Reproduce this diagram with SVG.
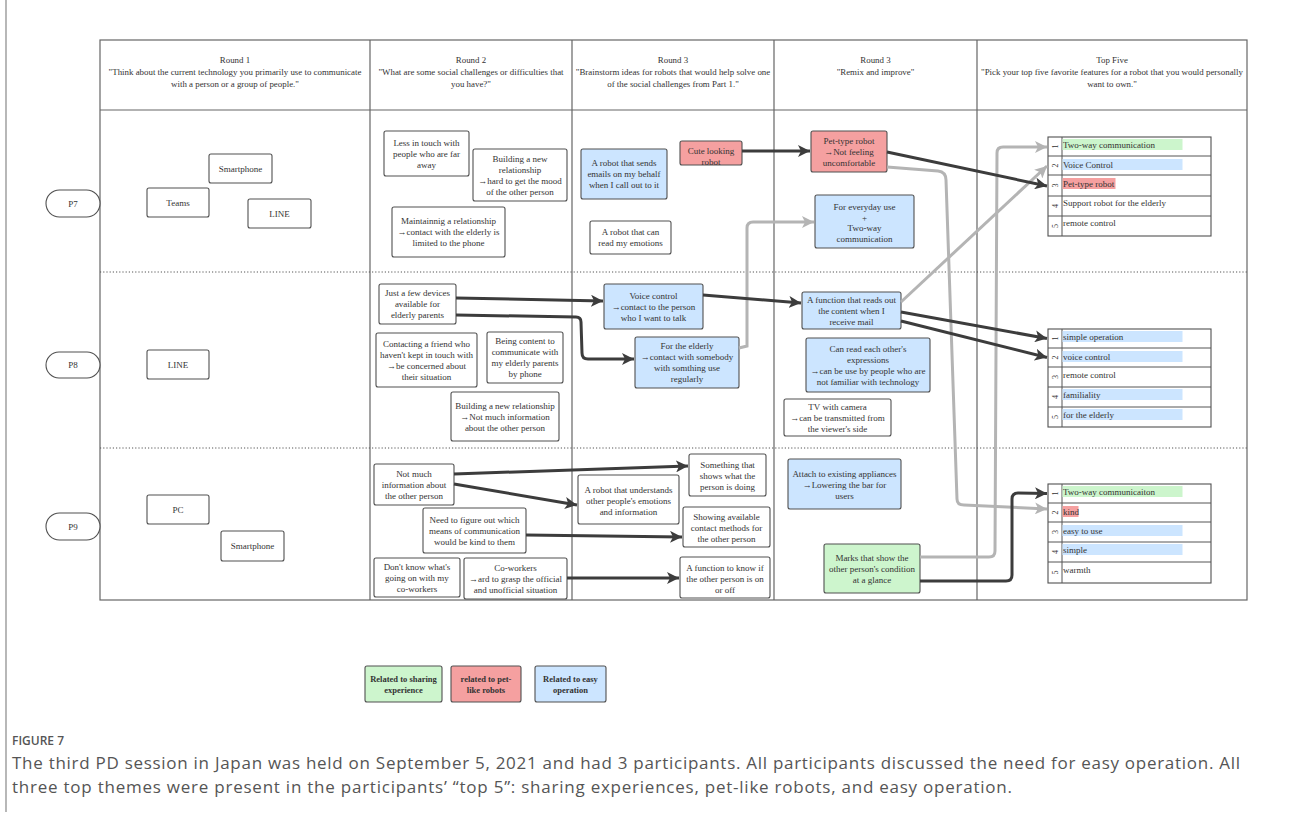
<svg xmlns="http://www.w3.org/2000/svg" width="1289" height="821" viewBox="0 0 1289 821">
  <style>
    .grid { fill: none; stroke: #666; stroke-width: 1.2; }
    .dots { fill: none; stroke: #555; stroke-width: 1; stroke-dasharray: 1.2 2; }
    .box { fill: #fff; stroke: #505050; stroke-width: 1.1; }
    .blue { fill: #cce5ff; }
    .red { fill: #f5a0a0; }
    .green { fill: #cdf5cd; }
    .t { font-family: "Liberation Serif", "Times New Roman", serif; font-size: 9px; fill: #333; text-anchor: middle; }
    .h { font-family: "Liberation Serif", "Times New Roman", serif; font-size: 8.9px; fill: #333; text-anchor: middle; }
    .r { font-family: "Liberation Serif", "Times New Roman", serif; font-size: 9px; fill: #333; }
    .num { font-family: "Liberation Serif", "Times New Roman", serif; font-size: 8px; fill: #333; text-anchor: middle; }
    .lg { font-family: "Liberation Serif", "Times New Roman", serif; font-size: 8.5px; font-weight: bold; fill: #333; text-anchor: middle; }
    .dark { fill: none; stroke: #3c3c3c; stroke-width: 3; marker-end: url(#ad); }
    .gray { fill: none; stroke: #b4b4b4; stroke-width: 3; marker-end: url(#ag); }
    .cap { font-family: "Open Sans", "Noto Sans", sans-serif; fill: #555; }
  </style>
  <defs>
    <marker id="ad" markerUnits="userSpaceOnUse" markerWidth="14" markerHeight="12" refX="12" refY="6" orient="auto">
      <path d="M0,0 L12,6 L0,12 L3,6 Z" fill="#3c3c3c"/>
    </marker>
    <marker id="ag" markerUnits="userSpaceOnUse" markerWidth="14" markerHeight="12" refX="12" refY="6" orient="auto">
      <path d="M0,0 L12,6 L0,12 L3,6 Z" fill="#b4b4b4"/>
    </marker>
  </defs>

  <rect width="1289" height="821" fill="#fff"/>
  <!-- figure frame -->
  <path d="M6 0 V812" stroke="#888" stroke-width="1.2" fill="none"/>

  <!-- table grid -->
  <g id="table">
    <rect class="grid" x="100" y="40" width="1147" height="560"/>
    <path class="grid" d="M100 110 H1247 M370 40 V600 M572 40 V600 M774 40 V600 M977 40 V600"/>
    <path class="dots" d="M100 272 H1247 M100 448 H1247"/>
  </g>

  <!-- column headers -->
  <g id="headers">
    <text class="h" x="235" y="63"><tspan x="235">Round 1</tspan><tspan x="235" dy="12">"Think about the current technology you primarily use to communicate</tspan><tspan x="235" dy="12">with a person or a group of people."</tspan></text>
    <text class="h" x="471" y="63"><tspan x="471">Round 2</tspan><tspan x="471" dy="12">"What are some social challenges or difficulties that</tspan><tspan x="471" dy="12">you have?"</tspan></text>
    <text class="h" x="673" y="63"><tspan x="673">Round 3</tspan><tspan x="673" dy="12">"Brainstorm ideas for robots that would help solve one</tspan><tspan x="673" dy="12">of the social challenges from Part 1."</tspan></text>
    <text class="h" x="875.5" y="63"><tspan x="875.5">Round 3</tspan><tspan x="875.5" dy="12">"Remix and improve"</tspan></text>
    <text class="h" x="1112" y="63"><tspan x="1112">Top Five</tspan><tspan x="1112" dy="12">"Pick your top five favorite features for a robot that you would personally</tspan><tspan x="1112" dy="12">want to own."</tspan></text>
  </g>

  <!-- participants -->
  <g id="p7"><rect class="box" x="46" y="190" width="54" height="27" rx="13.5"/><text class="t" x="73" y="206.5">P7</text></g>
  <g id="p8"><rect class="box" x="46" y="352" width="54" height="26" rx="13"/><text class="t" x="73" y="368">P8</text></g>
  <g id="p9"><rect class="box" x="46" y="513" width="54" height="27" rx="13.5"/><text class="t" x="73" y="529.5">P9</text></g>

  <!-- round 1 -->
  <g id="r1-smartphone-p7"><rect class="box" x="209" y="154" width="63" height="29" rx="2"/><text class="t" x="240.5" y="171.7">Smartphone</text></g>
  <g id="r1-teams"><rect class="box" x="147" y="188" width="62" height="29" rx="2"/><text class="t" x="178" y="205.7">Teams</text></g>
  <g id="r1-line-p7"><rect class="box" x="248" y="199" width="63" height="29" rx="2"/><text class="t" x="279.5" y="216.7">LINE</text></g>
  <g id="r1-line-p8"><rect class="box" x="147" y="350" width="62" height="29" rx="2"/><text class="t" x="178" y="367.7">LINE</text></g>
  <g id="r1-pc"><rect class="box" x="147" y="495" width="62" height="29" rx="2"/><text class="t" x="178" y="512.7">PC</text></g>
  <g id="r1-smartphone-p9"><rect class="box" x="221" y="531" width="63" height="30" rx="2"/><text class="t" x="252.5" y="549.2">Smartphone</text></g>

  <!-- round 2 -->
  <g id="r2-less-in-touch"><rect class="box" x="384" y="131" width="85" height="45" rx="2"/>
    <text class="t" x="426.5" y="145.7"><tspan x="426.5">Less in touch with</tspan><tspan x="426.5" dy="11">people who are far</tspan><tspan x="426.5" dy="11">away</tspan></text></g>
  <g id="r2-new-relationship-p7"><rect class="box" x="473" y="149" width="94" height="52" rx="2"/>
    <text class="t" x="520" y="161.7"><tspan x="520">Building a new</tspan><tspan x="520" dy="11">relationship</tspan><tspan x="520" dy="11">→hard to get the mood</tspan><tspan x="520" dy="11">of the other person</tspan></text></g>
  <g id="r2-maintaining"><rect class="box" x="392" y="207" width="113" height="50" rx="2"/>
    <text class="t" x="448.5" y="224.2"><tspan x="448.5">Maintainnig a relationship</tspan><tspan x="448.5" dy="11">→contact with the elderly is</tspan><tspan x="448.5" dy="11">limited to the phone</tspan></text></g>
  <g id="r2-few-devices"><rect class="box" x="379" y="284" width="77" height="40" rx="2"/>
    <text class="t" x="417.5" y="296.2"><tspan x="417.5">Just a few devices</tspan><tspan x="417.5" dy="11">available for</tspan><tspan x="417.5" dy="11">elderly parents</tspan></text></g>
  <g id="r2-contacting-friend"><rect class="box" x="376" y="333" width="101" height="54" rx="2"/>
    <text class="t" x="426.5" y="346.7"><tspan x="426.5">Contacting a friend who</tspan><tspan x="426.5" dy="11">haven't kept in touch with</tspan><tspan x="426.5" dy="11">→be concerned about</tspan><tspan x="426.5" dy="11">their situation</tspan></text></g>
  <g id="r2-content-phone"><rect class="box" x="487" y="332" width="76" height="51" rx="2"/>
    <text class="t" x="525" y="344.2"><tspan x="525">Being content to</tspan><tspan x="525" dy="11">communicate with</tspan><tspan x="525" dy="11">my elderly parents</tspan><tspan x="525" dy="11">by phone</tspan></text></g>
  <g id="r2-new-relationship-p8"><rect class="box" x="451" y="392" width="108" height="49" rx="2"/>
    <text class="t" x="505" y="408.7"><tspan x="505">Building a new relationship</tspan><tspan x="505" dy="11">→Not much information</tspan><tspan x="505" dy="11">about the other person</tspan></text></g>
  <g id="r2-not-much-info"><rect class="box" x="374" y="464" width="80" height="41" rx="2"/>
    <text class="t" x="414" y="476.7"><tspan x="414">Not much</tspan><tspan x="414" dy="11">information about</tspan><tspan x="414" dy="11">the other person</tspan></text></g>
  <g id="r2-figure-out"><rect class="box" x="423" y="508" width="103" height="45" rx="2"/>
    <text class="t" x="474.5" y="522.7"><tspan x="474.5">Need to figure out which</tspan><tspan x="474.5" dy="11">means of communication</tspan><tspan x="474.5" dy="11">would be kind to them</tspan></text></g>
  <g id="r2-dont-know"><rect class="box" x="374" y="558" width="86" height="39" rx="2"/>
    <text class="t" x="417" y="569.7"><tspan x="417">Don't know what's</tspan><tspan x="417" dy="11">going on with my</tspan><tspan x="417" dy="11">co-workers</tspan></text></g>
  <g id="r2-co-workers"><rect class="box" x="464" y="558" width="103" height="41" rx="2"/>
    <text class="t" x="515.5" y="570.7"><tspan x="515.5">Co-workers</tspan><tspan x="515.5" dy="11">→ard to grasp the official</tspan><tspan x="515.5" dy="11">and unofficial situation</tspan></text></g>

  <!-- round 3: brainstorm -->
  <g id="r3-sends-emails"><rect class="box blue" x="581" y="149" width="86" height="50" rx="2"/>
    <text class="t" x="624" y="166.2"><tspan x="624">A robot that sends</tspan><tspan x="624" dy="11">emails on my behalf</tspan><tspan x="624" dy="11">when I call out to it</tspan></text></g>
  <g id="r3-cute-robot"><rect class="box red" x="680" y="141" width="62" height="24" rx="2"/>
    <text class="t" x="711" y="154.2"><tspan x="711">Cute looking</tspan><tspan x="711" dy="11">robot</tspan></text></g>
  <g id="r3-read-emotions"><rect class="box" x="590" y="221" width="81" height="33" rx="2"/>
    <text class="t" x="630.5" y="235.2"><tspan x="630.5">A robot that can</tspan><tspan x="630.5" dy="11">read my emotions</tspan></text></g>
  <g id="r3-voice-control"><rect class="box blue" x="604" y="284" width="99" height="45" rx="2"/>
    <text class="t" x="653.5" y="298.7"><tspan x="653.5">Voice control</tspan><tspan x="653.5" dy="11">→contact to the person</tspan><tspan x="653.5" dy="11">who I want to talk</tspan></text></g>
  <g id="r3-for-elderly"><rect class="box blue" x="635" y="337" width="104" height="51" rx="2"/>
    <text class="t" x="687" y="349.2"><tspan x="687">For the elderly</tspan><tspan x="687" dy="11">→contact with somebody</tspan><tspan x="687" dy="11">with somthing use</tspan><tspan x="687" dy="11">regularly</tspan></text></g>
  <g id="r3-understands"><rect class="box" x="578" y="475" width="101" height="49" rx="2"/>
    <text class="t" x="628.5" y="492.5"><tspan x="628.5">A robot that understands</tspan><tspan x="628.5" dy="11">other people's emotions</tspan><tspan x="628.5" dy="11">and information</tspan></text></g>
  <g id="r3-shows-doing"><rect class="box" x="689" y="454" width="77" height="42" rx="2"/>
    <text class="t" x="727.5" y="468"><tspan x="727.5">Something that</tspan><tspan x="727.5" dy="11">shows what the</tspan><tspan x="727.5" dy="11">person is doing</tspan></text></g>
  <g id="r3-contact-methods"><rect class="box" x="683" y="507" width="87" height="40" rx="2"/>
    <text class="t" x="726.5" y="520"><tspan x="726.5">Showing available</tspan><tspan x="726.5" dy="11">contact methods for</tspan><tspan x="726.5" dy="11">the other person</tspan></text></g>
  <g id="r3-on-off"><rect class="box" x="680" y="557" width="90" height="41" rx="2"/>
    <text class="t" x="725" y="571"><tspan x="725">A function to know if</tspan><tspan x="725" dy="11">the other person is on</tspan><tspan x="725" dy="11">or off</tspan></text></g>

  <!-- round 3: remix -->
  <g id="r4-pet-type"><rect class="box red" x="811" y="131" width="76" height="41" rx="2"/>
    <text class="t" x="849" y="143.7"><tspan x="849">Pet-type robot</tspan><tspan x="849" dy="11">→Not feeling</tspan><tspan x="849" dy="11">uncomfortable</tspan></text></g>
  <g id="r4-everyday"><rect class="box blue" x="815" y="195" width="99" height="53" rx="2"/>
    <text class="t" x="864.5" y="210"><tspan x="864.5">For everyday use</tspan><tspan x="864.5" dy="10.5">+</tspan><tspan x="864.5" dy="10.5">Two-way</tspan><tspan x="864.5" dy="10.5">communication</tspan></text></g>
  <g id="r4-reads-mail"><rect class="box blue" x="802" y="292" width="99" height="37" rx="2"/>
    <text class="t" x="851.5" y="302.7"><tspan x="851.5">A function that reads out</tspan><tspan x="851.5" dy="11">the content when I</tspan><tspan x="851.5" dy="11">receive mail</tspan></text></g>
  <g id="r4-expressions"><rect class="box blue" x="806" y="338" width="124" height="54" rx="2"/>
    <text class="t" x="868" y="351.7"><tspan x="868">Can read each other's</tspan><tspan x="868" dy="11">expressions</tspan><tspan x="868" dy="11">→can be use by people who are</tspan><tspan x="868" dy="11">not familiar with technology</tspan></text></g>
  <g id="r4-tv-camera"><rect class="box" x="784" y="399" width="107" height="37" rx="2"/>
    <text class="t" x="837.5" y="409.7"><tspan x="837.5">TV  with camera</tspan><tspan x="837.5" dy="11">→can be transmitted from</tspan><tspan x="837.5" dy="11">the viewer's side</tspan></text></g>
  <g id="r4-appliances"><rect class="box blue" x="788" y="459" width="113" height="50" rx="2"/>
    <text class="t" x="844.5" y="477"><tspan x="844.5">Attach to existing appliances</tspan><tspan x="844.5" dy="11">→Lowering the bar for</tspan><tspan x="844.5" dy="11">users</tspan></text></g>
  <g id="r4-marks"><rect class="box green" x="824" y="544" width="96" height="49" rx="2"/>
    <text class="t" x="872" y="561"><tspan x="872">Marks that show the</tspan><tspan x="872" dy="11">other person's condition</tspan><tspan x="872" dy="11">at a glance</tspan></text></g>

  <!-- top five lists -->
  <g id="top5-p7">
    <rect class="box" x="1048" y="137" width="163" height="99"/>
    <path d="M1062 137 V236 M1048 156 H1211 M1048 175 H1211 M1048 196 H1211 M1048 216 H1211" stroke="#555" stroke-width="1" fill="none"/>
    <rect x="1062.5" y="139" width="120" height="11" fill="#ccf5cc"/>
    <rect x="1062.5" y="159" width="120" height="11" fill="#cce5ff"/>
    <rect x="1062.5" y="178" width="53" height="11" fill="#f5a0a0"/>
    <text class="r" x="1063" y="147.5">Two-way communication</text>
    <text class="r" x="1063" y="167.5">Voice Control</text>
    <text class="r" x="1063" y="186.5">Pet-type robot</text>
    <text class="r" x="1063" y="206">Support robot for the elderly</text>
    <text class="r" x="1063" y="226">remote control</text>
    <text class="num" transform="translate(1058 146.5) rotate(-90)">1</text>
    <text class="num" transform="translate(1058 165.5) rotate(-90)">2</text>
    <text class="num" transform="translate(1058 185.5) rotate(-90)">3</text>
    <text class="num" transform="translate(1058 206) rotate(-90)">4</text>
    <text class="num" transform="translate(1058 226) rotate(-90)">5</text>
  </g>
  <g id="top5-p8">
    <rect class="box" x="1048" y="329" width="163" height="98"/>
    <path d="M1062 329 V427 M1048 348 H1211 M1048 367 H1211 M1048 387 H1211 M1048 407 H1211" stroke="#555" stroke-width="1" fill="none"/>
    <rect x="1062.5" y="331" width="120" height="11" fill="#cce5ff"/>
    <rect x="1062.5" y="351" width="120" height="11" fill="#cce5ff"/>
    <rect x="1062.5" y="389" width="120" height="11" fill="#cce5ff"/>
    <rect x="1062.5" y="409" width="120" height="11" fill="#cce5ff"/>
    <text class="r" x="1063" y="339.5">simple operation</text>
    <text class="r" x="1063" y="359.5">voice control</text>
    <text class="r" x="1063" y="378">remote control</text>
    <text class="r" x="1063" y="397.5">familiality</text>
    <text class="r" x="1063" y="417.5">for the elderly</text>
    <text class="num" transform="translate(1058 338.5) rotate(-90)">1</text>
    <text class="num" transform="translate(1058 357.5) rotate(-90)">2</text>
    <text class="num" transform="translate(1058 377) rotate(-90)">3</text>
    <text class="num" transform="translate(1058 397) rotate(-90)">4</text>
    <text class="num" transform="translate(1058 417) rotate(-90)">5</text>
  </g>
  <g id="top5-p9">
    <rect class="box" x="1048" y="484" width="163" height="99"/>
    <path d="M1062 484 V583 M1048 503 H1211 M1048 522 H1211 M1048 542 H1211 M1048 562 H1211" stroke="#555" stroke-width="1" fill="none"/>
    <rect x="1062.5" y="486" width="120" height="11" fill="#ccf5cc"/>
    <rect x="1062.5" y="506" width="16" height="11" fill="#f5a0a0"/>
    <rect x="1062.5" y="525" width="120" height="11" fill="#cce5ff"/>
    <rect x="1062.5" y="544" width="120" height="11" fill="#cce5ff"/>
    <text class="r" x="1063" y="494.5">Two-way communicaiton</text>
    <text class="r" x="1063" y="514.5">kind</text>
    <text class="r" x="1063" y="533.5">easy to use</text>
    <text class="r" x="1063" y="552.5">simple</text>
    <text class="r" x="1063" y="573">warmth</text>
    <text class="num" transform="translate(1058 493.5) rotate(-90)">1</text>
    <text class="num" transform="translate(1058 512.5) rotate(-90)">2</text>
    <text class="num" transform="translate(1058 532) rotate(-90)">3</text>
    <text class="num" transform="translate(1058 552) rotate(-90)">4</text>
    <text class="num" transform="translate(1058 572.5) rotate(-90)">5</text>
  </g>

  <!-- connectors -->
  <g id="connectors">
    <path class="gray" d="M887 167 L938 171 Q946 172 946 180 L957 499 Q957 505 964 505 L1047 509"/>
    <path class="gray" d="M739 348 L747 346 L747 228 Q747 222 753 222 L814 222"/>
    <path class="gray" d="M901 302 L1047 166"/>
    <path class="gray" d="M920 557 L989 557 Q995 557 995 551 L997 153 Q997 147 1003 147 L1047 147"/>

    <path class="dark" d="M742 151 L810 151"/>
    <path class="dark" d="M887 152 L1047 186"/>
    <path class="dark" d="M456 298 L603 301"/>
    <path class="dark" d="M456 315 L576 317 Q581 317 581 322 L582 353 Q582 359 588 359 L634 359"/>
    <path class="dark" d="M703 295 L801 303"/>
    <path class="dark" d="M901 312 L1047 338.5"/>
    <path class="dark" d="M901 321 L1047 357.5"/>
    <path class="dark" d="M454 474 L688 466"/>
    <path class="dark" d="M454 484 L577 505"/>
    <path class="dark" d="M526 535 L682 537"/>
    <path class="dark" d="M567 578 L679 578"/>
    <path class="dark" d="M920 581 L1006 581 Q1012 581 1012 575 L1012 499 Q1012 493 1018 493 L1047 493.5"/>
  </g>

  <!-- legend -->
  <g id="legend">
    <g id="legend-sharing"><rect class="box green" x="365" y="666" width="77" height="36" rx="2"/>
      <text class="lg" x="403.5" y="682"><tspan x="403.5">Related to sharing</tspan><tspan x="403.5" dy="10.5">experience</tspan></text></g>
    <g id="legend-pet"><rect class="box red" x="451" y="666" width="70" height="36" rx="2"/>
      <text class="lg" x="486" y="682"><tspan x="486">related to pet-</tspan><tspan x="486" dy="10.5">like robots</tspan></text></g>
    <g id="legend-easy"><rect class="box blue" x="535" y="666" width="71" height="36" rx="2"/>
      <text class="lg" x="570.5" y="682"><tspan x="570.5">Related to easy</tspan><tspan x="570.5" dy="10.5">operation</tspan></text></g>
  </g>

  <!-- caption -->
  <g id="caption">
    <text class="cap" x="12" y="745" font-size="12" font-weight="600">FIGURE 7</text>
    <text class="cap" x="12" y="769" font-size="17" textLength="1228">The third PD session in Japan was held on September 5, 2021 and had 3 participants. All participants discussed the need for easy operation. All</text>
    <text class="cap" x="12" y="793" font-size="17" textLength="1000">three top themes were present in the participants’ “top 5”: sharing experiences, pet-like robots, and easy operation.</text>
  </g>
</svg>
